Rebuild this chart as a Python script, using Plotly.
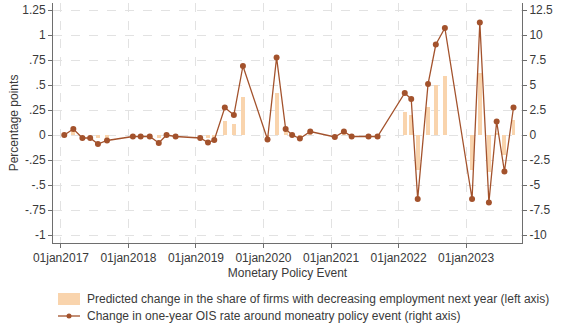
import plotly.graph_objects as go

# Monetary policy event dates
event_dates = [
    "2017-01-19", "2017-03-09", "2017-04-27", "2017-06-08", "2017-07-20", "2017-09-07",
    "2018-01-25", "2018-03-08", "2018-04-26", "2018-06-14", "2018-07-26", "2018-09-13",
    "2019-01-24", "2019-03-07", "2019-04-10", "2019-06-06", "2019-07-25", "2019-09-12",
    "2020-01-23", "2020-03-12", "2020-04-30", "2020-06-04", "2020-07-16", "2020-09-10",
    "2021-01-21", "2021-03-11", "2021-04-22", "2021-07-22", "2021-09-09",
    "2022-02-03", "2022-03-10", "2022-04-14", "2022-06-09", "2022-07-21", "2022-09-08",
    "2023-02-02", "2023-03-16", "2023-05-04", "2023-06-15", "2023-07-27", "2023-09-14",
]

# Predicted change in share of firms with decreasing employment (percentage points, left axis)
pred_change = [
    0.00, 0.05, 0.00, 0.00, -0.03, -0.03,
    0.00, 0.00, 0.00, -0.03, 0.00, 0.00,
    0.00, -0.03, -0.02, 0.14, 0.11, 0.38,
    -0.02, 0.42, 0.05, 0.00, -0.01, 0.01,
    0.00, 0.01, 0.00, 0.00, 0.00,
    0.23, 0.20, -0.35, 0.28, 0.50, 0.59,
    -0.35, 0.62, -0.37, 0.02, -0.20, 0.15,
]

# Change in one-year OIS rate around the event (basis points, right axis)
ois_change = [
    0.0, 0.6, -0.3, -0.3, -0.9, -0.55,
    -0.15, -0.15, -0.15, -0.8, 0.0, -0.15,
    -0.3, -0.75, -0.5, 2.75, 2.0, 6.9,
    -0.45, 7.75, 0.6, 0.0, -0.35, 0.35,
    -0.2, 0.35, -0.15, -0.15, -0.15,
    4.2, 3.6, -6.4, 5.1, 9.05, 10.7,
    -6.4, 11.25, -6.75, 1.35, -3.65, 2.75,
]

year_ticks = ["2017-01-01", "2018-01-01", "2019-01-01", "2020-01-01",
              "2021-01-01", "2022-01-01", "2023-01-01"]
year_labels = ["01jan2017", "01jan2018", "01jan2019", "01jan2020",
               "01jan2021", "01jan2022", "01jan2023"]

left_vals = [-1, -0.75, -0.5, -0.25, 0, 0.25, 0.5, 0.75, 1, 1.25]
left_labels = ["-1", "-.75", "-.5", "-.25", "0", ".25", ".5", ".75", "1", "1.25"]
right_vals = [-10, -7.5, -5, -2.5, 0, 2.5, 5, 7.5, 10, 12.5]
right_labels = ["-10", "-7.5", "-5", "-2.5", "0", "2.5", "5", "7.5", "10", "12.5"]

bar_label = "Predicted change in the share of firms with decreasing employment next year (left axis)"
line_label = "Change in one-year OIS rate around moneatry policy event (right axis)"

BAR_COLOR = "#f9d4ad"
LINE_COLOR = "#a3522c"
TEXT_COLOR = "#3a3a3a"
AXIS_COLOR = "#6e6e6e"
FONT = "Liberation Sans, Arial, sans-serif"

fig = go.Figure()
fig.add_trace(go.Bar(
    x=event_dates, y=pred_change, yaxis="y",
    width=21 * 86400000, marker=dict(color=BAR_COLOR, line=dict(width=0)),
    name=bar_label, showlegend=False,
))
fig.add_trace(go.Scatter(
    x=event_dates, y=ois_change, yaxis="y2", mode="lines+markers",
    line=dict(color=LINE_COLOR, width=1.3),
    marker=dict(color=LINE_COLOR, size=6),
    name=line_label, showlegend=False,
))

axis_common = dict(
    showline=True, linecolor=AXIS_COLOR, linewidth=1,
    ticks="outside", ticklen=4, tickcolor=AXIS_COLOR,
    tickfont=dict(size=12, color=TEXT_COLOR, family=FONT),
    zeroline=False,
)

fig.update_layout(
    width=565, height=328,
    margin=dict(l=53, r=43, t=3, b=85),
    paper_bgcolor="white", plot_bgcolor="white",
    font=dict(family=FONT, size=12, color=TEXT_COLOR),
    bargap=0,
    xaxis=dict(
        type="date", range=["2016-11-19", "2023-10-30"],
        tickmode="array", tickvals=year_ticks, ticktext=year_labels,
        showgrid=True, gridcolor="#e2e2e2", griddash="dash", gridwidth=1,
        title=dict(text="Monetary Policy Event", font=dict(size=12, color=TEXT_COLOR), standoff=4),
        **axis_common,
    ),
    yaxis=dict(
        range=[-1.08, 1.32], tickmode="array", tickvals=left_vals, ticktext=left_labels,
        showgrid=True, gridcolor="#e2e2e2", griddash="dash", gridwidth=1,
        title=dict(text="Percentage points", font=dict(size=12, color=TEXT_COLOR), standoff=1),
        **axis_common,
    ),
    yaxis2=dict(
        range=[-10.8, 13.2], overlaying="y", side="right",
        tickmode="array", tickvals=right_vals, ticktext=right_labels,
        showgrid=False,
        **axis_common,
    ),
)

# Right axis title, running off the page edge
fig.add_annotation(
    xref="paper", yref="paper", x=1.087, y=0.5, xanchor="left", yanchor="middle",
    text="Basis points", textangle=-90, showarrow=False,
    font=dict(size=12, color=TEXT_COLOR),
)

# Custom legend below the plot
def px_x(px):
    return (px - 53) / 469.0

def px_y(py):
    return (243 - py) / 240.0

fig.add_shape(type="rect", xref="paper", yref="paper",
              x0=px_x(58), x1=px_x(80), y0=px_y(305), y1=px_y(293),
              fillcolor=BAR_COLOR, line=dict(width=0))
fig.add_shape(type="line", xref="paper", yref="paper",
              x0=px_x(58), x1=px_x(80), y0=px_y(316), y1=px_y(316),
              line=dict(color=LINE_COLOR, width=1.3))
fig.add_shape(type="circle", xref="paper", yref="paper",
              x0=px_x(66.5), x1=px_x(71.5), y0=px_y(318.5), y1=px_y(313.5),
              fillcolor=LINE_COLOR, line=dict(width=0))
fig.add_annotation(xref="paper", yref="paper", x=px_x(85), y=px_y(299),
                   xanchor="left", yanchor="middle", text=bar_label, showarrow=False,
                   font=dict(size=12, color=TEXT_COLOR))
fig.add_annotation(xref="paper", yref="paper", x=px_x(85), y=px_y(316),
                   xanchor="left", yanchor="middle", text=line_label, showarrow=False,
                   font=dict(size=12, color=TEXT_COLOR))

fig.write_html("out.html")
